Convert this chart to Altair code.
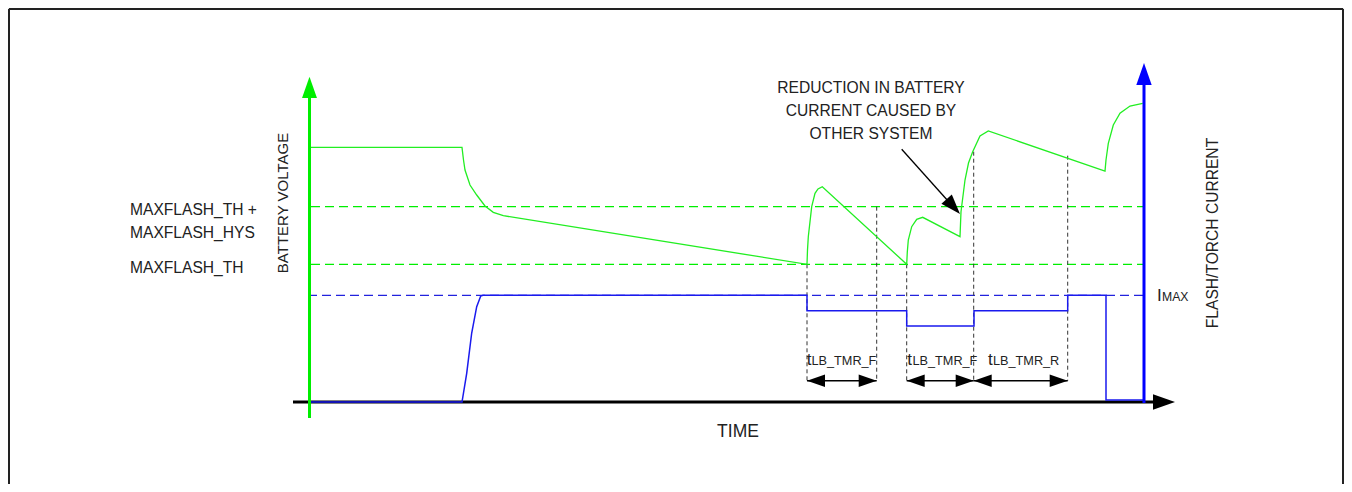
import altair as alt
import pandas as pd

# ---- diagram values: time t and signal level v (origin = where the axes cross) ----
batt_t = [0, 151, 152.5, 154, 159, 165.7, 174, 182.3, 192.3, 496,
          496.5, 497.3, 500.7, 504, 507, 511.3, 595.7,
          596.3, 597.3, 600.7, 605.7, 611.7, 649,
          650, 654, 657.5, 661.7, 669, 677.3, 794,
          795, 797.3, 802.3, 809, 819, 831.7]
batt_v = [254.7, 254.7, 242, 232, 217, 207, 196, 189.7, 186.3, 137.7,
          152, 165.3, 195.3, 208.7, 213, 215.3, 137.7,
          150, 162, 175.3, 182.7, 184.7, 165.3,
          190.3, 222, 239, 250.3, 266, 271, 231,
          242, 258.7, 277, 288.7, 296, 298.7]

cur_t = [0, 151, 155.7, 160.7, 165.7, 169.7, 172, 496, 496, 595.7, 595.7,
         663, 663, 756.7, 756.7, 795, 795, 833]
cur_v = [0, 0, 28.7, 69, 95.3, 106, 106.7, 106.7, 91.3, 91.3, 76,
         76, 91.3, 91.3, 106.7, 106.7, 2, 2]

TH = 137.7          # MAXFLASH_TH
TH_HYS = 195.3      # MAXFLASH_TH + MAXFLASH_HYS
IMAX = 106.7        # IMAX
T_END = 833

marker_t = [496, 565.7, 595.7, 662.7, 756.7]
marker_top = [137.7, 195.3, 137.7, 250.3, 246.3]
ARROW_V = 21.3
interval_start = [496, 595.7, 662.7]
interval_end = [565.7, 662.7, 756.7]
interval_sub = ["LB_TMR_F", "LB_TMR_F", "LB_TMR_R"]

note_lines = ["REDUCTION IN BATTERY", "CURRENT CAUSED BY", "OTHER SYSTEM"]
level_labels = ["MAXFLASH_TH +", "MAXFLASH_HYS", "MAXFLASH_TH"]

FONT = "Liberation Sans"
TXT = "#222222"

xs = alt.Scale(domain=[-303, 1033], nice=False, zero=False)
ys = alt.Scale(domain=[-82, 394], nice=False, zero=False)


def X(f="x"):
    return alt.X(f"{f}:Q", scale=xs, axis=None)


def Y(f="y"):
    return alt.Y(f"{f}:Q", scale=ys, axis=None)


def segs(rows, color, width, dash=None):
    df = pd.DataFrame(rows, columns=["x", "y", "x2", "y2"])
    kw = dict(color=color, strokeWidth=width)
    if dash:
        kw["strokeDash"] = dash
    return alt.Chart(df).mark_rule(**kw).encode(
        x=X(), y=Y(), x2=alt.X2("x2:Q"), y2=alt.Y2("y2:Q"))


layers = []

# frame
layers.append(segs([[-302, -85, -302, 393], [-302, 393, 1032, 393],
                    [1032, 393, 1032, -85]], "#222222", 2))

# threshold lines
layers.append(segs([[0, TH_HYS, T_END, TH_HYS], [0, TH, T_END, TH]], "#00ee00", 1.3, [9, 5]))
layers.append(segs([[-3, IMAX, T_END, IMAX]], "#2222dd", 1.3, [9, 5]))

# timing markers
layers.append(segs([[t, top, t, ARROW_V] for t, top in zip(marker_t, marker_top)],
                   "#333333", 1, [4, 3]))

# time axis
layers.append(segs([[-18, 0, 842, 0]], "#000000", 3))

# current waveform
cur_df = pd.DataFrame({"x": cur_t, "y": cur_v, "o": range(len(cur_t))})
layers.append(alt.Chart(cur_df).mark_line(color="#1a1aee", strokeWidth=1.5).encode(
    x=X(), y=Y(), order="o:Q"))

# battery voltage waveform
batt_df = pd.DataFrame({"x": batt_t, "y": batt_v, "o": range(len(batt_t))})
layers.append(alt.Chart(batt_df).mark_line(color="#22ee22", strokeWidth=1.3).encode(
    x=X(), y=Y(), order="o:Q"))

# vertical axes
layers.append(segs([[-1.5, -16, -1.5, 305]], "#00ee00", 3))
layers.append(segs([[833, -1, 833, 318]], "#0000ff", 3))

# interval arrows
layers.append(segs([[a, ARROW_V, b, ARROW_V] for a, b in zip(interval_start, interval_end)],
                   "#000000", 1.5))
# annotation arrow
layers.append(segs([[590.7, 252.7, 646, 191]], "#000000", 1.3))

# arrowheads
heads = []
for a, b in zip(interval_start, interval_end):
    heads.append([a, ARROW_V, 180, 324, "#000000"])
    heads.append([b, ARROW_V, 0, 324, "#000000"])
heads.append([864, 0, 0, 484, "#000000"])
heads.append([-1.5, 325.3, 270, 455, "#00ee00"])
heads.append([833, 339, 270, 484, "#0000ff"])
heads.append([649, 188, 48, 400, "#000000"])
heads_df = pd.DataFrame(heads, columns=["x", "y", "ang", "sz", "c"])
layers.append(alt.Chart(heads_df).mark_point(
    shape="M0,0 L-2,-0.7 L-2,0.7 Z", filled=True, opacity=1, strokeWidth=0).encode(
    x=X(), y=Y(), angle=alt.Angle("ang:Q", scale=None),
    size=alt.Size("sz:Q", scale=None), color=alt.Color("c:N", scale=None)))

# texts (left aligned)
tl = []
for lab, yv in zip(level_labels, [187, 164.3, 128.7]):
    tl.append([-181, yv, lab, 15.6])
for ts, ss, sub in zip([495.7, 596.3, 677], [500.5, 601.5, 682], interval_sub):
    tl.append([ts, 37, "t", 17])
    tl.append([ss, 37, sub, 12.7])
tl.append([846, 101.3, "I", 17])
tl.append([851, 101.3, "MAX", 12.2])
tl_df = pd.DataFrame(tl, columns=["x", "y", "t", "fs"])
layers.append(alt.Chart(tl_df).mark_text(
    align="left", baseline="alphabetic", font=FONT, color=TXT).encode(
    x=X(), y=Y(), text="t:N", size=alt.Size("fs:Q", scale=None)))

# annotation text (centered)
tc_df = pd.DataFrame({"x": [560] * 3, "y": [309.3, 286.3, 263], "t": note_lines})
layers.append(alt.Chart(tc_df).mark_text(
    align="center", baseline="alphabetic", font=FONT, fontSize=15.6, color=TXT).encode(
    x=X(), y=Y(), text="t:N"))

# rotated axis titles
tr_df = pd.DataFrame([[-28, 199, "BATTERY VOLTAGE", 15],
                      [902, 169, "FLASH/TORCH CURRENT", 15.6]],
                     columns=["x", "y", "t", "fs"])
layers.append(alt.Chart(tr_df).mark_text(
    align="center", baseline="middle", font=FONT, angle=270, color=TXT).encode(
    x=X(), y=Y(), text="t:N", size=alt.Size("fs:Q", scale=None)))

# TIME
time_df = pd.DataFrame([[427, -34.7, "TIME"]], columns=["x", "y", "t"])
layers.append(alt.Chart(time_df).mark_text(
    align="center", baseline="alphabetic", font=FONT, fontSize=17.5, color=TXT).encode(
    x=X(), y=Y(), text="t:N"))

chart = alt.layer(*layers).properties(
    width=1336, height=476, padding=0,
    autosize=alt.AutoSizeParams(type="none"),
).configure_view(strokeWidth=0).configure(background="white")

chart.save("out.html", embed_options={"renderer": "svg", "actions": False})
